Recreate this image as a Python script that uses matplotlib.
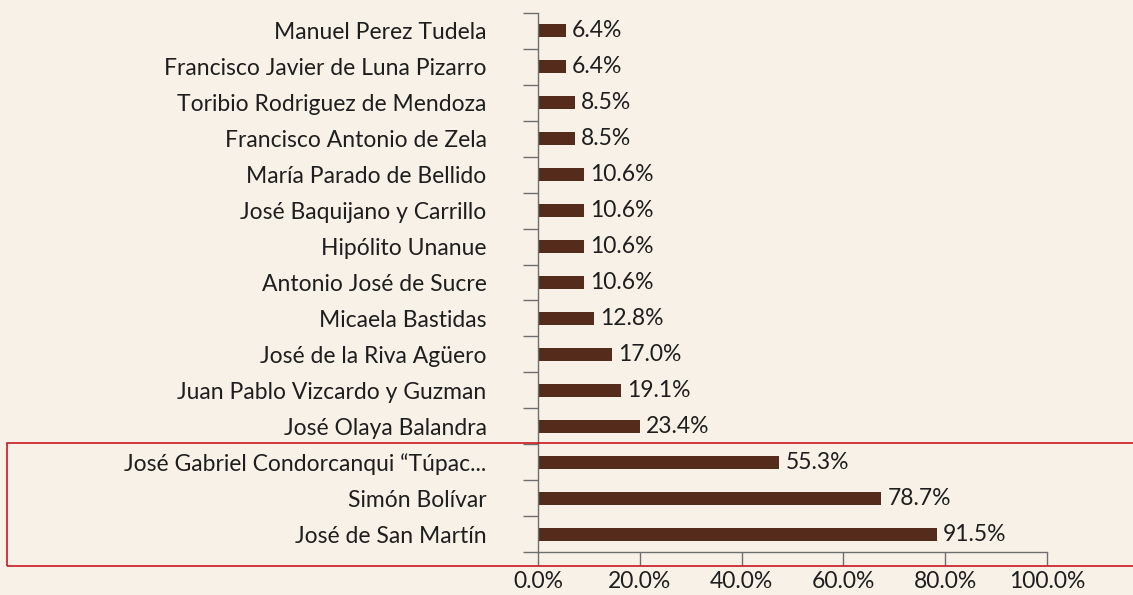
import numpy as np
import matplotlib.pyplot as plt
from matplotlib.patches import Rectangle

# Data (top to bottom as shown)
names = [
    'Manuel Perez Tudela',
    'Francisco Javier de Luna Pizarro',
    'Toribio Rodriguez de Mendoza',
    'Francisco Antonio de Zela',
    'María Parado de Bellido',
    'José Baquijano y Carrillo',
    'Hipólito Unanue',
    'Antonio José de Sucre',
    'Micaela Bastidas',
    'José de la Riva Agüero',
    'Juan Pablo Vizcardo y Guzman',
    'José Olaya Balandra',
    'José Gabriel Condorcanqui “Túpac...',
    'Simón Bolívar',
    'José de San Martín',
]
shares = [6.4, 6.4, 8.5, 8.5, 10.6, 10.6, 10.6, 10.6, 12.8, 17.0, 19.1, 23.4, 55.3, 78.7, 91.5]
tick_labels = ['0.0%', '20.0%', '40.0%', '60.0%', '80.0%', '100.0%']

bg = '#f8f1e8'
bar_color = '#552b1c'
text_color = '#1e1e1e'
axis_color = '#6e6e6e'
fs = 16.5

plt.rcParams['font.family'] = ['Lato', 'DejaVu Sans']

fig = plt.figure(figsize=(11.33, 5.95), dpi=100, facecolor=bg)
ax = fig.add_axes([538 / 1133, 1 - 552 / 595, 509 / 1133, (552 - 13) / 595])
ax.set_facecolor(bg)

y = np.arange(len(names))
ax.barh(y, shares, height=0.36, color=bar_color)
for yi, v in zip(y, shares):
    ax.annotate(f'{v:.1f}%', (v, yi), xytext=(4.5, 0), textcoords='offset points',
                va='center', ha='left', fontsize=fs, color=text_color)

# the original chart's axis scale does not match the bar lengths
tick_step = 23.35
ax.set_xlim(0, tick_step * 5)
ax.set_xticks(np.arange(6) * tick_step)
ax.set_xticklabels(tick_labels)
ax.set_ylim(len(names) - 0.5, -0.5)
ax.set_yticks(y)
ax.set_yticklabels(names)
ax.set_yticks(np.arange(len(names) + 1) - 0.5, minor=True)

ax.tick_params(axis='y', which='major', length=0, pad=37, labelsize=fs, labelcolor=text_color)
ax.tick_params(axis='y', which='minor', length=11, width=1, color=axis_color, direction='out')
ax.tick_params(axis='x', length=9.5, width=1, color=axis_color, direction='out', pad=4,
               labelsize=fs, labelcolor=text_color)

for s in ['top', 'right']:
    ax.spines[s].set_visible(False)
for s in ['left', 'bottom']:
    ax.spines[s].set_color(axis_color)
    ax.spines[s].set_linewidth(1)

# highlight box around the top three
fig.patches.append(Rectangle((7 / 1133, 1 - 566 / 595), 1.2, (566 - 443) / 595,
                             transform=fig.transFigure, fill=False,
                             edgecolor='#c8181e', linewidth=1.2, clip_on=False))

plt.savefig('out.png', dpi=100, facecolor=bg)
